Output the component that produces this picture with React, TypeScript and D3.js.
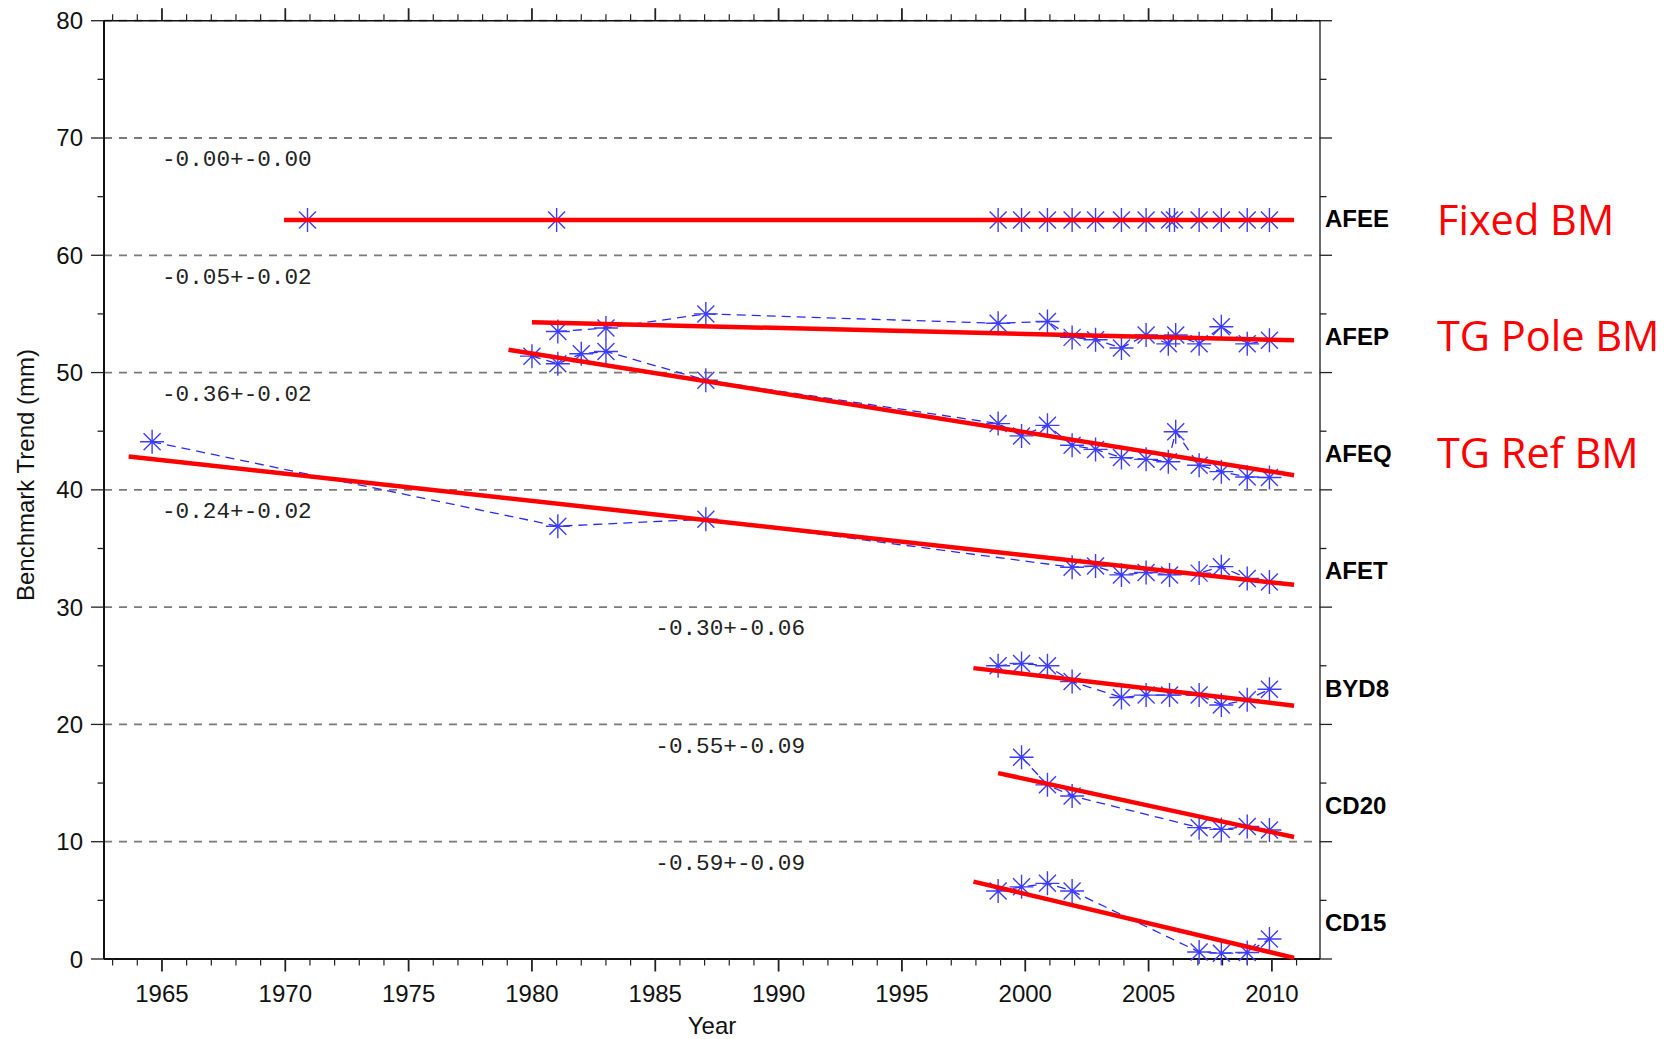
import React, { useEffect, useRef } from 'react';
import * as d3 from 'd3';

// station names, right of the plot
const stations = ['AFEE', 'AFEP', 'AFEQ', 'AFET', 'BYD8', 'CD20', 'CD15'];
const stationLabelValue = [63.1, 53.1, 43.1, 33.1, 23.1, 13.1, 3.1];

// trend texts inside the plot
const trendLabels = ['-0.00+-0.00', '-0.05+-0.02', '-0.36+-0.02', '-0.24+-0.02', '-0.30+-0.06', '-0.55+-0.09', '-0.59+-0.09'];
const trendLabelYear = [1965, 1965, 1965, 1965, 1985, 1985, 1985];
const trendLabelValue = [68.1, 58.1, 48.1, 38.1, 28.1, 18.1, 8.1];

// red annotations
const notes = ['Fixed BM', 'TG Pole BM', 'TG Ref BM'];
const noteValue = [63.1, 53.2, 43.2];

// measured benchmark points
const afeeYears = [1970.9, 1981.0, 1998.9, 1999.85, 2000.9, 2001.9, 2002.85, 2003.9, 2004.9, 2005.85, 2006.05, 2007.05, 2007.95, 2009.0, 2009.9];
const afeeValues = [63.0, 63.0, 63.0, 63.0, 63.0, 63.0, 63.0, 63.0, 63.0, 63.0, 63.0, 63.0, 63.0, 63.0, 63.0];

const afepYears = [1981.05, 1983.0, 1987.05, 1998.9, 2000.9, 2001.9, 2002.85, 2003.9, 2004.9, 2005.8, 2006.1, 2007.05, 2007.95, 2009.0, 2009.9];
const afepValues = [53.5, 53.8, 55.0, 54.2, 54.35, 53.0, 52.8, 52.1, 53.2, 52.45, 53.2, 52.45, 53.9, 52.45, 52.75];

const afeqYears = [1980.0, 1981.05, 1982.0, 1983.0, 1987.05, 1998.9, 1999.85, 2000.9, 2001.9, 2002.85, 2003.9, 2004.9, 2005.8, 2006.1, 2007.05, 2007.95, 2009.0, 2009.9];
const afeqValues = [51.4, 50.75, 51.6, 51.8, 49.35, 45.65, 44.6, 45.5, 43.8, 43.45, 42.75, 42.6, 42.4, 44.95, 42.1, 41.55, 41.1, 41.05];

const afetYears = [1964.6, 1981.05, 1987.05, 2001.9, 2002.85, 2003.9, 2004.9, 2005.85, 2007.05, 2007.95, 2009.0, 2009.9];
const afetValues = [44.1, 36.9, 37.5, 33.4, 33.5, 32.75, 32.95, 32.75, 32.9, 33.45, 32.45, 32.15];

const byd8Years = [1998.9, 1999.85, 2000.9, 2001.9, 2003.9, 2004.9, 2005.85, 2007.05, 2007.95, 2009.0, 2009.9];
const byd8Values = [25.0, 25.2, 25.0, 23.65, 22.3, 22.5, 22.5, 22.5, 21.65, 22.1, 23.0];

const cd20Years = [1999.85, 2000.9, 2001.9, 2007.05, 2007.95, 2009.0, 2009.9];
const cd20Values = [17.2, 14.85, 13.9, 11.2, 11.05, 11.3, 11.0];

const cd15Years = [1998.9, 1999.85, 2000.9, 2001.9, 2007.05, 2007.95, 2009.0, 2009.9];
const cd15Values = [5.8, 6.15, 6.45, 5.8, 0.6, 0.5, 0.55, 1.7];

// fitted trend lines
const fitStartYear = [1969.95, 1980.0, 1979.05, 1963.65, 1997.9, 1998.9, 1997.9];
const fitStartValue = [63.0, 54.3, 51.95, 42.85, 24.8, 15.85, 6.6];
const fitEndYear = [2010.9, 2010.9, 2010.9, 2010.9, 2010.9, 2010.9, 2010.9];
const fitEndValue = [63.0, 52.75, 41.25, 31.9, 21.6, 10.4, 0.1];

const yearTicks = [1965, 1970, 1975, 1980, 1985, 1990, 1995, 2000, 2005, 2010];
const valueTicks = [0, 10, 20, 30, 40, 50, 60, 70, 80];

const allYears = [afeeYears, afepYears, afeqYears, afetYears, byd8Years, cd20Years, cd15Years];
const allValues = [afeeValues, afepValues, afeqValues, afetValues, byd8Values, cd20Values, cd15Values];

const App = () => {
    const ref = useRef<SVGSVGElement | null>(null);

    useEffect(() => {
        const svg = d3.select(ref.current);
        svg.selectAll('*').remove();

        const left = 104, right = 1320, top = 20.7, bottom = 959;
        const x = d3.scaleLinear().domain([1962.65, 2011.95]).range([left, right]);
        const y = d3.scaleLinear().domain([0, 80]).range([bottom, top]);
        const sans = '"Liberation Sans", Arial, sans-serif';

        // dashed grid
        svg.append('g').selectAll('line')
            .data(valueTicks.filter(v => v > 0))
            .enter().append('line')
            .attr('x1', left).attr('x2', right)
            .attr('y1', d => y(d)).attr('y2', d => y(d))
            .attr('stroke', '#7a7a7a').attr('stroke-width', 1.8)
            .attr('stroke-dasharray', '8,7');

        // frame
        const frame = svg.append('g').attr('stroke', '#111').attr('fill', 'none');
        frame.append('line').attr('x1', left).attr('x2', left).attr('y1', top).attr('y2', bottom).attr('stroke-width', 2);
        frame.append('line').attr('x1', right).attr('x2', right).attr('y1', top).attr('y2', bottom).attr('stroke-width', 1.6).attr('stroke', '#444');
        frame.append('line').attr('x1', left).attr('x2', right).attr('y1', top).attr('y2', top).attr('stroke-width', 1.5);
        frame.append('line').attr('x1', left).attr('x2', right).attr('y1', bottom).attr('y2', bottom).attr('stroke-width', 2);

        // year ticks top and bottom
        const years = d3.range(1963, 2012);
        const ticks = svg.append('g').attr('stroke', '#222').attr('stroke-width', 1.3);
        years.forEach(yr => {
            const major = yr % 5 === 0;
            const len = major ? 12.5 : 6.5;
            ticks.append('line').attr('x1', x(yr)).attr('x2', x(yr)).attr('y1', bottom).attr('y2', bottom + len).attr('stroke-width', major ? 1.8 : 1.2);
            ticks.append('line').attr('x1', x(yr)).attr('x2', x(yr)).attr('y1', top).attr('y2', top - len).attr('stroke-width', major ? 1.8 : 1.2);
        });
        // value ticks left and right
        d3.range(0, 81, 5).forEach(v => {
            const major = v % 10 === 0;
            const len = major ? 13 : 6.5;
            ticks.append('line').attr('x1', left - len).attr('x2', left).attr('y1', y(v)).attr('y2', y(v));
            ticks.append('line').attr('x1', right).attr('x2', right + (major ? 12 : 6.5)).attr('y1', y(v)).attr('y2', y(v));
        });

        svg.append('g').selectAll('text')
            .data(yearTicks).enter().append('text')
            .attr('x', d => x(d)).attr('y', 1001.5)
            .attr('text-anchor', 'middle')
            .style('font-family', sans).style('font-size', '24px').attr('fill', '#111')
            .text(d => d);

        svg.append('g').selectAll('text')
            .data(valueTicks).enter().append('text')
            .attr('x', 83).attr('y', d => y(d))
            .attr('text-anchor', 'end').attr('dominant-baseline', 'central')
            .style('font-family', sans).style('font-size', '24px').attr('fill', '#111')
            .text(d => d);

        svg.append('text')
            .attr('x', (left + right) / 2).attr('y', 1034)
            .attr('text-anchor', 'middle')
            .style('font-family', sans).style('font-size', '24px').attr('fill', '#111')
            .text('Year');

        svg.append('text')
            .attr('transform', 'translate(33.5, 475) rotate(-90)')
            .attr('text-anchor', 'middle')
            .style('font-family', sans).style('font-size', '24px').attr('fill', '#111')
            .text('Benchmark Trend (mm)');

        // trend texts
        svg.append('g').selectAll('text')
            .data(trendLabels).enter().append('text')
            .attr('x', (d, i) => x(trendLabelYear[i])).attr('y', (d, i) => y(trendLabelValue[i]))
            .attr('dominant-baseline', 'central')
            .style('font-family', '"Liberation Mono", monospace').style('font-size', '22.7px').attr('fill', '#222')
            .text(d => d);

        // dashed lines joining the points
        allYears.forEach((yrs, s) => {
            const pts: [number, number][] = yrs.map((yr, i) => [x(yr), y(allValues[s][i])]);
            svg.append('path')
                .attr('d', d3.line()(pts))
                .attr('fill', 'none').attr('stroke', '#2a2aff').attr('stroke-width', 1.3)
                .attr('stroke-dasharray', '9,6');
        });

        // asterisk markers
        const r = 12, q = 8.5;
        const star = `M${-r},0L${r},0M0,${-r}L0,${r}M${-q},${-q}L${q},${q}M${-q},${q}L${q},${-q}`;
        allYears.forEach((yrs, s) => {
            svg.append('g').selectAll('path')
                .data(yrs).enter().append('path')
                .attr('transform', (d, i) => `translate(${x(d)},${y(allValues[s][i])})`)
                .attr('d', star)
                .attr('fill', 'none').attr('stroke', '#3d3dff').attr('stroke-width', 1.4);
        });

        // fitted trends
        svg.append('g').selectAll('line')
            .data(stations).enter().append('line')
            .attr('x1', (d, i) => x(fitStartYear[i])).attr('y1', (d, i) => y(fitStartValue[i]))
            .attr('x2', (d, i) => x(fitEndYear[i])).attr('y2', (d, i) => y(fitEndValue[i]))
            .attr('stroke', '#ff0000').attr('stroke-width', 4.5);

        // station names
        svg.append('g').selectAll('text')
            .data(stations).enter().append('text')
            .attr('x', right + 5).attr('y', (d, i) => y(stationLabelValue[i]))
            .attr('dominant-baseline', 'central')
            .style('font-family', sans).style('font-size', '24px').style('font-weight', '700').attr('fill', '#000')
            .text(d => d);

        svg.append('g').selectAll('text')
            .data(notes).enter().append('text')
            .attr('x', 1437).attr('y', (d, i) => y(noteValue[i]))
            .attr('dominant-baseline', 'central')
            .style('font-family', '"Open Sans", sans-serif').style('font-size', '41.5px').attr('fill', '#ff0000')
            .text(d => d);
    }, []);

    return (
        <svg ref={ref} width={1680} height={1039} style={{ position: 'absolute', left: 0, top: 0, background: '#fff' }} />
    );
};

export default App;
